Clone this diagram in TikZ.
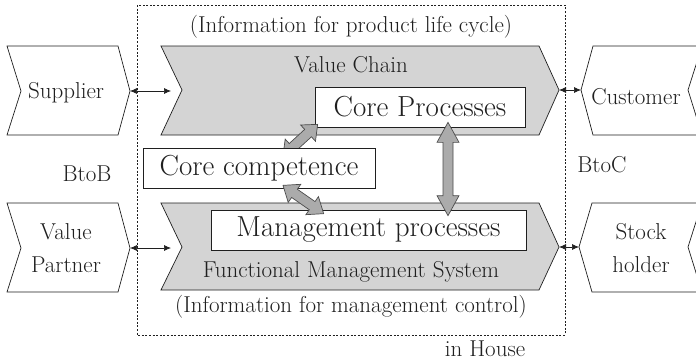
\documentclass[tikz,border=0pt]{standalone}
\usepackage{tikz}
\usetikzlibrary{arrows.meta}
\usetikzlibrary{calc}
\definecolor{chevgray}{gray}{0.83}
\definecolor{arrowgray}{gray}{0.67}
\definecolor{inkgray}{gray}{0.12}
\newcommand{\txtfont}{\fontsize{23}{33}\selectfont}
\newcommand{\boxfont}{\fontsize{29}{32}\selectfont}
\tikzset{
    frame/.style={
        draw=inkgray,
        line width=0.7pt,
        dash pattern=on 2pt off 1.6pt
    },
    chevron/.style={draw=inkgray, fill=chevgray, line width=0.7pt},
    partner/.style={draw=inkgray, fill=white, line width=0.7pt},
    box/.style={
        draw=inkgray,
        fill=white,
        line width=0.7pt,
        inner sep=0pt,
        text=inkgray,
        font=\boxfont
    },
    txt/.style={inner sep=0pt, text=inkgray, font=\txtfont, align=center},
    link/.style={
        draw=inkgray,
        line width=0.7pt,
        {Latex[length=7pt, width=6pt]}-{Latex[length=7pt, width=6pt]}
    },
    bigarrow/.style={draw=black!70, fill=arrowgray, line width=0.7pt}
}
% wide double-headed arrow between two points
\newcommand{\blockarrow}[3][15pt]{%
  \filldraw[bigarrow] (#2)
    -- ($(#2)!#1!(#3)!11pt!90:(#3)$)
    -- ($(#2)!#1!(#3)!5pt!90:(#3)$)
    -- ($(#3)!#1!(#2)!5pt!-90:(#2)$)
    -- ($(#3)!#1!(#2)!11pt!-90:(#2)$)
    -- (#3)
    -- ($(#3)!#1!(#2)!11pt!90:(#2)$)
    -- ($(#3)!#1!(#2)!5pt!90:(#2)$)
    -- ($(#2)!#1!(#3)!5pt!-90:(#3)$)
    -- ($(#2)!#1!(#3)!11pt!-90:(#3)$)
    -- cycle;}

\begin{document}
\begin{tikzpicture}[x=1pt, y=-1pt]
  \useasboundingbox (0,0) rectangle (696,364);

  % In-house frame
  \draw[frame] (137,5) rectangle (565,335);
  \node[txt] (house) at (485,349) {in House};

  % Upper row: supplier, value chain, customer
  \draw[partner] (7,46) -- (118,46) -- (130,91) -- (118,135) -- (7,135) -- (21,91) -- cycle;
  \coordinate (suptip) at (130,91);
  \node[txt] (sup) at (66,93) {Supplier};

  \draw[chevron] (161,46) -- (539,46) -- (559,90) -- (539,135) -- (161,135) -- (182,90) -- cycle;
  \coordinate (vcin) at (171,91);
  \coordinate (vctip) at (559,90);
  \node[txt] (vc) at (351,65) {Value Chain};
  \node[txt] (vcinfo) at (351,27) {(Information for product life cycle)};

  \draw[partner] (581,90) -- (593,46) -- (702,46) -- (688,90) -- (702,135) -- (593,135) -- cycle;
  \coordinate (custip) at (581,90);
  \node[txt] (cus) at (636,97) {Customer};

  \draw[link] (suptip) -- (vcin);
  \draw[link] (vctip) -- (custip);

  % Lower row: value partner, management system, stock holder
  \draw[partner] (7,203) -- (118,203) -- (130,248) -- (118,292) -- (7,292) -- (21,248) -- cycle;
  \coordinate (vptip) at (130,248);
  \node[txt] (vp) at (66,248) {Value\\Partner};

  \draw[chevron] (161,203) -- (539,203) -- (559,247) -- (539,290) -- (161,290) -- (182,247) -- cycle;
  \coordinate (fmsin) at (171,248);
  \coordinate (fmstip) at (559,247);
  \node[txt] (fms) at (351,272) {Functional Management System};
  \node[txt] (fmsinfo) at (351,307) {(Information for management control)};

  \draw[partner] (579,247) -- (592,203) -- (702,203) -- (688,247) -- (702,292) -- (592,292) -- cycle;
  \coordinate (shtip) at (579,247);
  \node[txt] (sh) at (641,248) {Stock\\holder};

  \draw[link] (vptip) -- (fmsin);
  \draw[link] (fmstip) -- (shtip);

  % Relations
  \node[txt] (btob) at (87,174) {BtoB};
  \node[txt] (btoc) at (602,165) {BtoC};

  % Inner boxes
  \node[box, minimum width=210pt, minimum height=40pt] (core) at (420,107) {Core Processes};
  \node[box, minimum width=315pt, minimum height=40pt] (mgmt) at (368.5,230) {Management processes};

  \coordinate (c1a) at (283,156);
  \coordinate (c1b) at ([xshift=3pt, yshift=3pt]core.south west);
  \blockarrow[13pt]{c1a}{c1b}

  \node[box, minimum width=232pt, minimum height=40pt] (comp) at (259,168) {Core competence};

  \coordinate (c2a) at ([xshift=24pt, yshift=3pt]comp.south);
  \coordinate (c2b) at ([xshift=113pt, yshift=-4pt]mgmt.north west);
  \blockarrow[14pt]{c2a}{c2b}

  \coordinate (c3a) at ([xshift=28pt, yshift=5pt]core.south);
  \coordinate (c3b) at ([xshift=79.5pt, yshift=-6pt]mgmt.north);
  \blockarrow[20pt]{c3a}{c3b}
\end{tikzpicture}
\end{document}
